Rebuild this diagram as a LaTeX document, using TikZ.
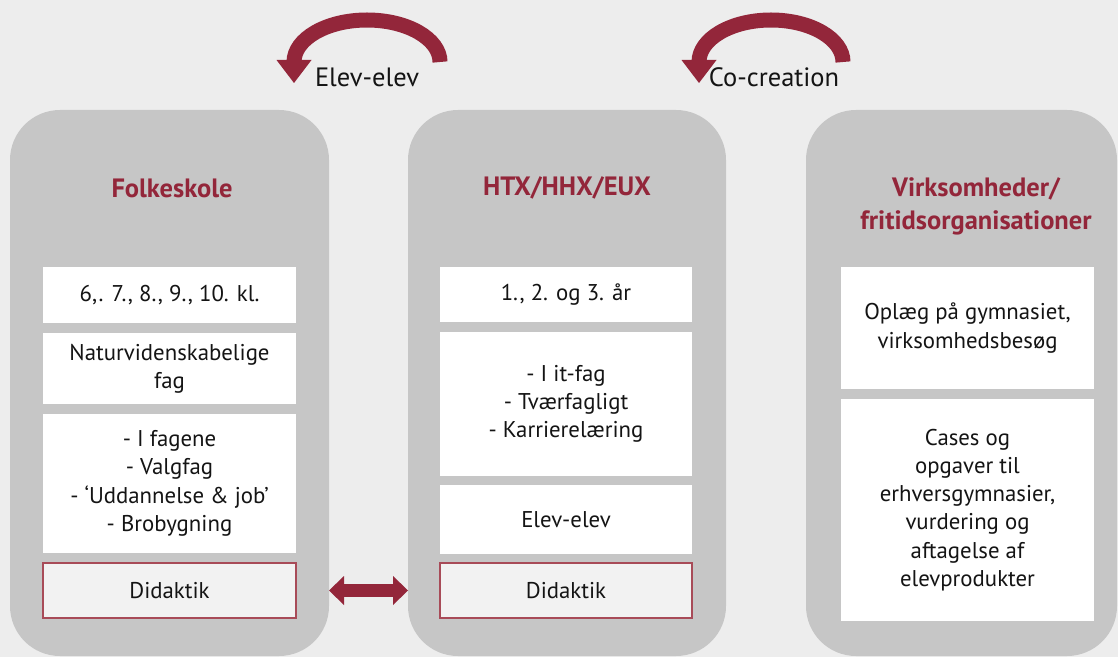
\documentclass[tikz,border=0pt]{standalone}
\usepackage{fontspec}
\setmainfont{PT Sans}
\usetikzlibrary{arrows.meta}
\definecolor{bgc}{HTML}{EDEDED}
\definecolor{panelc}{HTML}{C6C6C6}
\definecolor{redc}{HTML}{93263A}
\definecolor{bordc}{HTML}{A84B58}
\definecolor{didc}{HTML}{F2F2F2}
\definecolor{txtc}{HTML}{141414}
\tikzset{
  panel/.style={rectangle, fill=panelc, rounded corners=50pt, inner sep=0pt, outer sep=0pt},
  wbox/.style={rectangle, fill=white, inner sep=0pt, outer sep=0pt, minimum width=253pt, align=center, text=txtc, font=\fontsize{22.8}{28.3}\selectfont},
  dbox/.style={wbox, fill=didc, draw=bordc, line width=1.5pt},
  title/.style={align=center, text=redc, font=\bfseries\fontsize{26.5}{33}\selectfont, inner sep=0pt},
  lbl/.style={text=txtc, font=\fontsize{26.5}{28}\selectfont, inner sep=0pt},
  bigarrow/.style={draw=redc, line width=15pt, -{Triangle[width=35pt,length=23pt,line width=0pt]}},
  dblarrow/.style={draw=redc, line width=13pt, {Triangle[width=29pt,length=15pt,line width=0pt]}-{Triangle[width=29pt,length=15pt,line width=0pt]}}
}
\begin{document}
\begin{tikzpicture}[x=1pt,y=1pt]
\fill[bgc] (0,0) rectangle (1118,657);
\useasboundingbox (0,0) rectangle (1118,657);
% panels
\node[panel, minimum width=319pt, minimum height=546pt] (lp) at (169.5,274) {};
\node[panel, minimum width=318pt, minimum height=546pt] (mp) at (567,274) {};
\node[panel, minimum width=311pt, minimum height=546pt] (rp) at (961.5,274) {};
% titles
\node[title] (lt) at (172,469) {Folkeskole};
\node[title] (mt) at (567,469) {HTX/HHX/EUX};
\node[title] (rt) at (976,451) {Virksomheder/\\fritidsorganisationer};
% left boxes
\node[wbox, minimum height=56pt] (l1) at (169.5,362) {6,. 7., 8., 9., 10. kl.};
\node[wbox, minimum height=71pt] (l2) at (169.5,288.5) {Naturvidenskabelige\\fag};
\node[wbox, minimum height=139pt] (l3) at (169.5,173.5) {- I fagene\\- Valgfag\\- ‘Uddannelse \& job’\\- Brobygning};
\node[dbox, minimum height=55pt] (l4) at (169.5,66.5) {Didaktik};
% middle boxes
\node[wbox, minimum width=252pt, minimum height=55pt] (m1) at (566,362.5) {1., 2. og 3. år};
\node[wbox, minimum width=252pt, minimum height=144pt] (m2) at (566,253) {- I it-fag\\- Tværfagligt\\- Karrierelæring};
\node[wbox, minimum width=252pt, minimum height=69pt] (m3) at (566,137.5) {Elev-elev};
\node[dbox, minimum width=252pt, minimum height=55pt] (m4) at (566,66.5) {Didaktik};
% right boxes
\node[wbox, minimum height=122pt] (r1) at (967.5,329) {Oplæg på gymnasiet,\\virksomhedsbesøg};
\node[wbox, minimum height=222pt] (r2) at (967.5,147) {Cases og\\opgaver til\\erhversgymnasier,\\vurdering og\\aftagelse af\\elevprodukter};
% double arrow between panels
\draw[dblarrow] (lp.east |- l4.center) -- (mp.west |- l4.center);
% curved arrows
\coordinate (a1s) at (440,595);
\coordinate (a2s) at (843,595);
\draw[bigarrow] (a1s) arc[start angle=0, end angle=180, x radius=73pt, y radius=42pt] -- ++(0,-21pt);
\draw[bigarrow] (a2s) arc[start angle=0, end angle=180, x radius=72pt, y radius=42pt] -- ++(0,-21pt);
\node[lbl] (e1) at (367,580) {Elev-elev};
\node[lbl] (e2) at (774,580) {Co-creation};
\end{tikzpicture}
\end{document}
